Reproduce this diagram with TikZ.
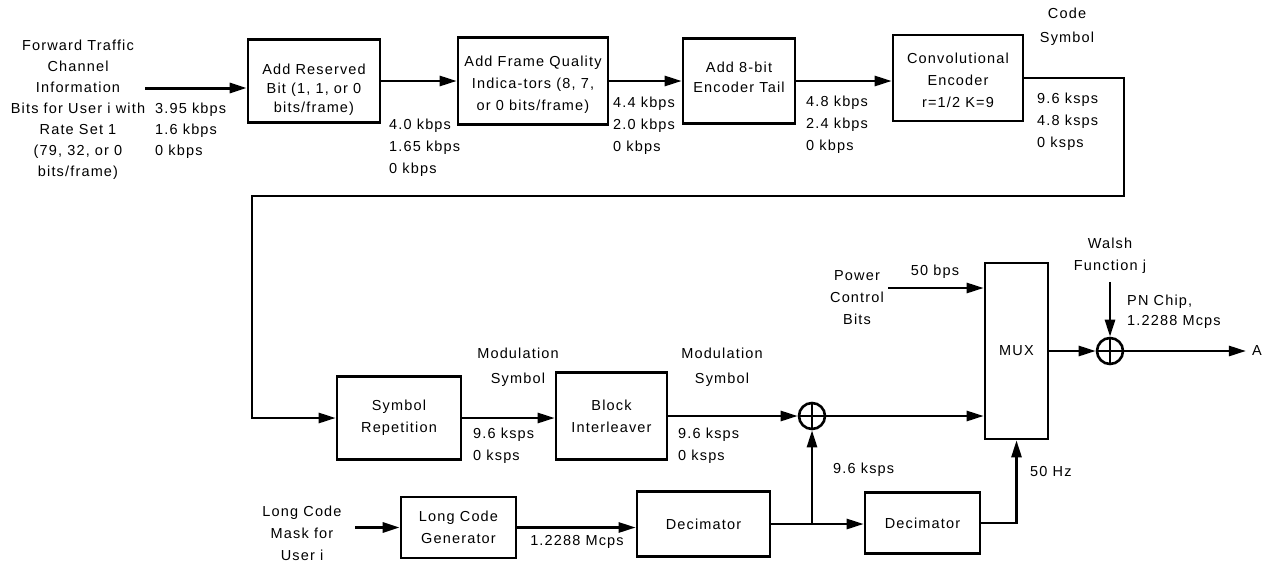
\documentclass[tikz,border=0pt]{standalone}
\usepackage{fontspec}
\setmainfont[LetterSpace=8]{Liberation Sans}
\usetikzlibrary{arrows.meta,calc}
\begin{document}
\begin{tikzpicture}[x=1pt,y=-1pt,
  every node/.style={font=\fontsize{14.5}{22}\selectfont},
  box/.style={draw, line width=2.6pt, inner sep=0pt, align=center},
  txt/.style={align=center, inner sep=0pt},
  ltxt/.style={align=left, anchor=west, inner sep=0pt},
  arr/.style={line width=2.6pt, -{Triangle[length=17pt,width=10pt]}},
  ln/.style={line width=2.6pt},
  sum/.style={draw, circle, line width=2.6pt, minimum size=26pt, inner sep=0pt,
    path picture={\draw[line width=2.6pt] (path picture bounding box.north) -- (path picture bounding box.south)
      (path picture bounding box.west) -- (path picture bounding box.east);}}
]
\useasboundingbox (0,0) rectangle (1265,562);

% top row boxes
\node[box, minimum width=132pt, minimum height=83pt] (b1) at (314,81) {};
\node[txt, font=\fontsize{14.5}{19}\selectfont] (t1) at (314,90) {Add Reserved\\Bit (1, 1, or 0\\bits/frame)};
\node[box, minimum width=150pt, minimum height=87pt] (b2) at (533,81) {};
\node[txt] (t2) at (533,85) {Add Frame Quality\\Indica-tors (8, 7,\\or 0 bits/frame)};
\node[box, minimum width=112pt, minimum height=85pt] (b3) at (739,81) {};
\node[txt, font=\fontsize{14.5}{20}\selectfont] (t3) at (739,77) {Add 8-bit\\Encoder Tail};
\node[box, minimum width=130pt, minimum height=86pt] (b4) at (958,78) {};
\node[txt] (t4) at (958,80.5) {Convolutional\\Encoder\\r=1/2 K=9};

% middle row
\node[box, minimum width=124pt, minimum height=83pt] (sr) at (399,418) {Symbol\\Repetition};
\node[box, minimum width=111pt, minimum height=87pt] (bi) at (611.5,416) {Block\\Interleaver};
\node[sum] (a1) at (812,416) {};
\node[box, minimum width=63pt, minimum height=176pt] (mux) at (1016.5,351) {MUX};
\node[sum] (a2) at (1110,351) {};
\node[inner sep=0pt] (A) at (1257,351) {A};

% bottom row
\node[box, minimum width=115pt, minimum height=61pt] (lcg) at (458.5,527.5) {Long Code\\Generator};
\node[box, minimum width=133pt, minimum height=65pt] (dec1) at (703.5,524) {Decimator};
\node[box, minimum width=115pt, minimum height=61pt] (dec2) at (922.5,523) {Decimator};

% labels
\node[txt, font=\fontsize{14.5}{21}\selectfont] (ftc) at (78,110) {Forward Traffic\\Channel\\Information\\Bits for User i with\\Rate Set 1\\(79, 32, or 0\\bits/frame)};
\node[ltxt, font=\fontsize{14.5}{21}\selectfont] (r0) at (155,131) {3.95 kbps\\1.6 kbps\\0 kbps};
\node[ltxt] (r1) at (389,148) {4.0 kbps\\1.65 kbps\\0 kbps};
\node[ltxt] (r2) at (613,126) {4.4 kbps\\2.0 kbps\\0 kbps};
\node[ltxt] (r3) at (806,125) {4.8 kbps\\2.4 kbps\\0 kbps};
\node[ltxt] (r4) at (1037,122) {9.6 ksps\\4.8 ksps\\0 ksps};
\node[txt, font=\fontsize{14.5}{24}\selectfont] (code) at (1067,27) {Code\\Symbol};
\node[txt, font=\fontsize{14.5}{25}\selectfont] (mod1) at (518,367) {Modulation\\Symbol};
\node[txt, font=\fontsize{14.5}{25}\selectfont] (mod2) at (722,367) {Modulation\\Symbol};
\node[ltxt] (r5) at (473,446) {9.6 ksps\\0 ksps};
\node[ltxt] (r6) at (678,446) {9.6 ksps\\0 ksps};
\node[txt] (mask) at (302,533) {Long Code\\Mask for\\User i};
\node[txt] (mcps) at (577,542) {1.2288 Mcps};
\node[ltxt] (r7) at (833,470) {9.6 ksps};
\node[ltxt] (hz) at (1030,472) {50 Hz};
\node[txt] (pcb) at (857,298) {Power\\Control\\Bits};
\node[txt] (bps) at (935,272) {50 bps};
\node[txt] (walsh) at (1110,256) {Walsh\\Function j};
\node[ltxt, font=\fontsize{14.5}{20}\selectfont] (pn) at (1127,312) {PN Chip,\\1.2288 Mcps};

% connectors
\coordinate (in) at (145,88);
\draw[arr, line width=3pt] (in) -- (in -| b1.west);
\draw[arr] (b1.east) -- (b2.west);
\draw[arr] (b2.east) -- (b3.west);
\draw[arr] (b3.east) -- (b3.east -| b4.west);
\coordinate (c1) at (1124,196);
\coordinate (c2) at (252,196);
\draw[arr, line join=miter] (b4.east) -| (c1) -- (c2) |- (sr.west);
\draw[arr] (sr.east) -- (sr.east -| bi.west);
\draw[arr] (bi.east) -- (a1.west);
\draw[arr] (a1.east) -- (a1.east -| mux.west);
\coordinate (pc) at (888,288);
\draw[arr] (pc) -- (pc -| mux.west);
\draw[arr] (mux.east) -- (a2.west);
\draw[arr, shorten >=6pt] (a2.east) -- (A.west);
\draw[arr, shorten <=8pt] (walsh.south) -- (a2.north);
\coordinate (m0) at (355,527.5);
\draw[arr, line width=3pt] (m0) -- (lcg.west);
\draw[arr] (lcg.east) -- (lcg.east -| dec1.west);
\draw[arr] (dec1.east) -- (dec1.east -| dec2.west);
\coordinate (j) at (a1.south |- dec1.east);
\draw[arr] (j) -- (a1.south);
\draw[arr, line join=miter] (dec2.east) -| (mux.south);
\end{tikzpicture}
\end{document}
